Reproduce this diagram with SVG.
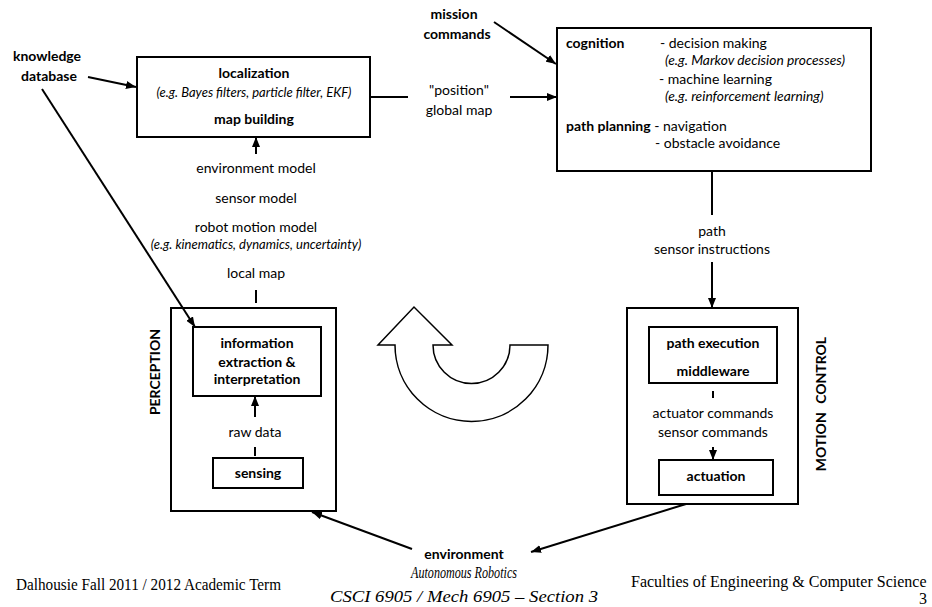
<svg xmlns="http://www.w3.org/2000/svg" width="932" height="607" viewBox="0 0 932 607">
<defs>
<style>
.t{font-family:Lato,"Liberation Sans",sans-serif;font-size:14px;fill:#000}
.b{font-weight:bold}
.i{font-style:italic;font-size:13px}
.ci{font-style:italic;font-size:13.8px}
.m{text-anchor:middle}
.box{fill:none;stroke:#000;stroke-width:2}
.ln{stroke:#000;stroke-width:2;fill:none}
.ft{font-family:"Liberation Serif",serif;font-size:16px;fill:#000}
</style>
<marker id="ah" markerWidth="10" markerHeight="8" refX="10" refY="4" orient="auto" markerUnits="userSpaceOnUse"><path d="M0,0 L10,4 L0,8 Z" fill="#000"/></marker>
</defs>
<rect width="932" height="607" fill="#fff"/>

<g id="knowledge-database">
<text class="t b m" x="47" y="61">knowledge</text>
<text class="t b m" x="49" y="81">database</text>
</g>

<g id="mission-commands">
<text class="t b m" x="454" y="19">mission</text>
<text class="t b m" x="457" y="39">commands</text>
</g>

<g id="localization">
<rect class="box" x="137" y="57" width="233" height="80"/>
<text class="t b m" x="254" y="78">localization</text>
<text class="t i m" x="254" y="97">(e.g. Bayes filters, particle filter, EKF)</text>
<text class="t b m" x="254" y="124">map building</text>
</g>

<g id="position-label">
<text class="t m" x="459" y="95">"position"</text>
<text class="t m" x="459" y="115">global map</text>
</g>

<g id="cognition">
<rect class="box" x="557" y="28" width="314" height="143"/>
<text class="t b" x="566" y="48">cognition</text>
<text class="t" x="660" y="48">- decision making</text>
<text class="t ci" x="665" y="65">(e.g. Markov decision processes)</text>
<text class="t" x="659" y="84">- machine learning</text>
<text class="t ci" x="665" y="101">(e.g. reinforcement learning)</text>
<text class="t" x="566" y="131"><tspan class="b">path planning</tspan> - navigation</text>
<text class="t" x="655" y="148">- obstacle avoidance</text>
</g>

<g id="path-label">
<text class="t m" x="712" y="236">path</text>
<text class="t m" x="712" y="254">sensor instructions</text>
</g>

<g id="model-labels">
<text class="t m" x="256" y="173">environment model</text>
<text class="t m" x="256" y="203">sensor model</text>
<text class="t m" x="256" y="232">robot motion model</text>
<text class="t i m" x="256" y="249">(e.g. kinematics, dynamics, uncertainty)</text>
<text class="t m" x="256" y="278">local map</text>
</g>

<g id="perception">
<rect class="box" x="171" y="308" width="165" height="203"/>
<text class="t b m" transform="translate(160,372) rotate(-90)">PERCEPTION</text>
</g>

<g id="information-extraction">
<rect class="box" x="193" y="327" width="128" height="69"/>
<text class="t b m" x="257" y="348">information</text>
<text class="t b m" x="257" y="367">extraction &amp;</text>
<text class="t b m" x="257" y="384">interpretation</text>
</g>

<g id="raw-data">
<text class="t m" x="255" y="437">raw data</text>
</g>

<g id="sensing">
<rect class="box" x="213" y="458" width="90" height="30"/>
<text class="t b m" x="258" y="478">sensing</text>
</g>

<g id="cycle-arrow">
<path d="M395,345 L378,345 L414,307 L452,345 L433,345 A38.5,38.5 0 0 0 510,345 L548,345 A76.5,76.5 0 0 1 395,345 Z" fill="#fff" stroke="#000" stroke-width="1.5"/>
</g>

<g id="motion-control">
<rect class="box" x="627" y="308" width="171" height="196"/>
<text class="t b m" transform="translate(826,404) rotate(-90)" word-spacing="5">MOTION CONTROL</text>
</g>

<g id="path-execution">
<rect class="box" x="649" y="327" width="128" height="56"/>
<text class="t b m" x="713" y="348">path execution</text>
<text class="t b m" x="713" y="376">middleware</text>
</g>

<g id="command-labels">
<text class="t m" x="713" y="418">actuator commands</text>
<text class="t m" x="713" y="437">sensor commands</text>
</g>

<g id="actuation">
<rect class="box" x="659" y="460" width="114" height="35"/>
<text class="t b m" x="716" y="481">actuation</text>
</g>

<g id="environment">
<text class="t b m" x="464" y="559" font-size="14.5">environment</text>
</g>

<g id="connectors">
<line class="ln" x1="88" y1="77" x2="136" y2="87" marker-end="url(#ah)"/>
<line class="ln" x1="42" y1="89" x2="195" y2="327" stroke-width="1.6" marker-end="url(#ah)"/>
<line class="ln" x1="494" y1="22" x2="556" y2="64" marker-end="url(#ah)"/>
<line class="ln" x1="370" y1="97" x2="408" y2="97"/>
<line class="ln" x1="510" y1="97" x2="557" y2="97" marker-end="url(#ah)"/>
<line class="ln" x1="712" y1="171" x2="712" y2="215"/>
<line class="ln" x1="712" y1="262" x2="712" y2="308" marker-end="url(#ah)"/>
<line class="ln" x1="256" y1="154" x2="256" y2="137" marker-end="url(#ah)"/>
<line class="ln" x1="256" y1="290" x2="256" y2="303"/>
<line class="ln" x1="255" y1="417" x2="255" y2="396" marker-end="url(#ah)"/>
<line class="ln" x1="255" y1="447" x2="255" y2="456"/>
<line class="ln" x1="713" y1="391" x2="713" y2="398"/>
<line class="ln" x1="713" y1="447" x2="713" y2="460" marker-end="url(#ah)"/>
<line class="ln" x1="686" y1="504" x2="531" y2="552" marker-end="url(#ah)"/>
<line class="ln" x1="412" y1="549" x2="312" y2="512" marker-end="url(#ah)"/>
</g>

<g id="footer">
<text class="ft" x="16" y="590" textLength="265" lengthAdjust="spacingAndGlyphs">Dalhousie Fall 2011 / 2012 Academic Term</text>
<text class="ft m" x="464" y="578" font-size="17" font-style="italic" textLength="106" lengthAdjust="spacingAndGlyphs">Autonomous Robotics</text>
<text class="ft m" x="464" y="602" font-size="17" font-style="italic" textLength="268" lengthAdjust="spacingAndGlyphs">CSCI 6905 / Mech 6905 – Section 3</text>
<text class="ft" x="631" y="587">Faculties of Engineering &amp; Computer Science</text>
<text class="ft" x="919" y="604" font-size="13">3</text>
</g>
</svg>
